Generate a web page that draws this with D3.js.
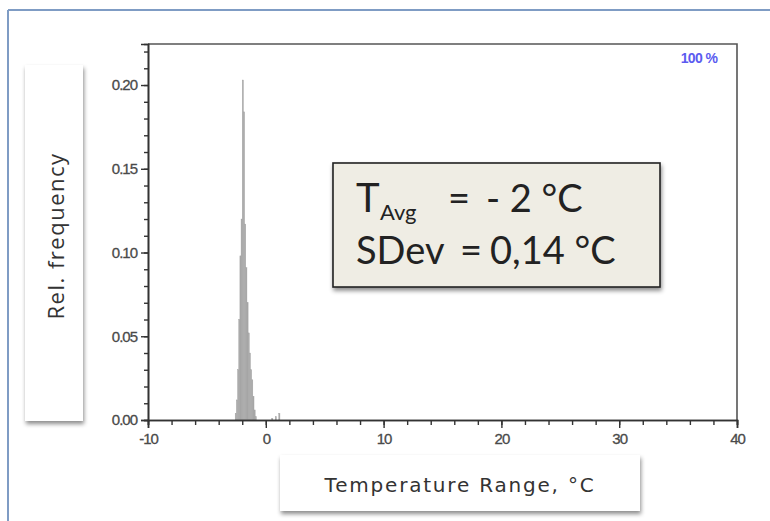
<!DOCTYPE html>
<html>
<head>
<meta charset="utf-8">
<script src="https://cdn.jsdelivr.net/npm/d3@7"></script>
<style>
  html, body { margin: 0; padding: 0; background: #fff; }
  svg { display: block; }
</style>
</head>
<body>
<svg id="chart" width="770" height="521"></svg>
<script>
// Histogram bins: left edge (°C), width 0.1 °C, relative frequency
const binStarts = [-2.6, -2.5, -2.4, -2.3, -2.2, -2.1, -2.0, -1.9, -1.8, -1.7, -1.6, -1.5, -1.4, -1.3, -1.2, -1.1, -1.0, -0.9, 0.5, 0.8, 1.1];
const binFreq   = [0.004, 0.012, 0.030, 0.060, 0.098, 0.120, 0.203, 0.184, 0.117, 0.091, 0.070, 0.052, 0.040, 0.030, 0.024, 0.014, 0.006, 0.002, 0.001, 0.002, 0.004];
const binWidth = 0.1;

const xTicks = [-10, 0, 10, 20, 30, 40];
const yTicks = [0.00, 0.05, 0.10, 0.15, 0.20];
const xDomain = [-10, 40];
const yDomain = [0, 0.2245];

const statLabels = ["SDev"];
const statValues = ["- 2 °C", "0,14 °C"];

const svg = d3.select("#chart");

// outer slide frame
svg.append("line").attr("x1", 8).attr("x2", 770).attr("y1", 10).attr("y2", 10)
  .attr("stroke", "#7f9cc4").attr("stroke-width", 2);
svg.append("line").attr("x1", 8).attr("x2", 8).attr("y1", 10).attr("y2", 521)
  .attr("stroke", "#7f9cc4").attr("stroke-width", 2);

const defs = svg.append("defs");
const f = defs.append("filter").attr("id", "shadow").attr("x", "-10%").attr("y", "-10%").attr("width", "130%").attr("height", "140%");
f.append("feDropShadow").attr("dx", 1).attr("dy", 3).attr("stdDeviation", 2).attr("flood-color", "#000").attr("flood-opacity", 0.45);

const plot = { left: 148, right: 737, top: 44, bottom: 420 };
const x = d3.scaleLinear().domain(xDomain).range([plot.left, plot.right]);
const y = d3.scaleLinear().domain(yDomain).range([plot.bottom, plot.top]);

// histogram bars
svg.append("g").selectAll("rect")
  .data(binStarts.map((s, i) => ({ s, v: binFreq[i] })))
  .join("rect")
  .attr("x", d => x(d.s))
  .attr("width", d => x(d.s + binWidth) - x(d.s))
  .attr("y", d => y(d.v))
  .attr("height", d => y(0) - y(d.v))
  .attr("fill", "#a6a6a6")
  .attr("stroke", "#a6a6a6")
  .attr("stroke-width", 0.4);

// plot frame (top and right)
svg.append("path")
  .attr("d", `M${plot.left},${plot.top}H${plot.right}V${plot.bottom}`)
  .attr("fill", "none").attr("stroke", "#555").attr("stroke-width", 1.6);

const tickFont = "Liberation Sans, Arial, sans-serif";
const hyphenInt = v => String(v);   // plain hyphen-minus, e.g. "-10"

// x axis
const xAxis = svg.append("g").attr("transform", `translate(0,${plot.bottom})`);
xAxis.call(d3.axisBottom(x).tickValues(d3.range(-10, 40.01, 2)).tickSize(5).tickFormat(""));
xAxis.append("g").call(d3.axisBottom(x).tickValues(xTicks).tickSize(8).tickFormat(hyphenInt));
xAxis.selectAll(".domain").attr("stroke", "#333").attr("stroke-width", 1.6);
xAxis.selectAll(".tick line").attr("stroke", "#333").attr("stroke-width", 1.4);
xAxis.selectAll("text")
  .style("font-family", tickFont).style("font-size", "15px").style("letter-spacing", "-1px")
  .attr("fill", "#4a4a4a").attr("stroke", "#4a4a4a").attr("stroke-width", 0.3)
  .attr("y", 13).attr("dy", "0.75em");

// y axis
const yAxis = svg.append("g").attr("transform", `translate(${plot.left},0)`);
yAxis.call(d3.axisLeft(y).tickValues(d3.range(0, 0.2241, 0.01)).tickSize(4).tickFormat(""));
yAxis.append("g").call(d3.axisLeft(y).tickValues(yTicks).tickSize(7).tickFormat(d3.format(".2f")));
yAxis.selectAll(".domain").attr("stroke", "#333").attr("stroke-width", 1.6);
yAxis.selectAll(".tick line").attr("stroke", "#333").attr("stroke-width", 1.4);
yAxis.selectAll("text")
  .style("font-family", tickFont).style("font-size", "15px").style("letter-spacing", "-1px")
  .attr("fill", "#4a4a4a").attr("stroke", "#4a4a4a").attr("stroke-width", 0.3)
  .attr("x", -11);

// zoom indicator
svg.append("text").attr("x", 699).attr("y", 63).attr("text-anchor", "middle")
  .style("font-family", tickFont).style("font-size", "14px").style("letter-spacing", "-0.6px")
  .attr("font-weight", "bold").attr("fill", "#5b5bf0").text("100 %");

// y-axis title card
svg.append("rect").attr("x", 25).attr("y", 65).attr("width", 58).attr("height", 356)
  .attr("fill", "#fff").attr("filter", "url(#shadow)");
svg.append("text")
  .attr("transform", "translate(64,236) rotate(-90)")
  .attr("text-anchor", "middle")
  .style("font-family", "Open Sans, sans-serif").style("font-size", "22px")
  .style("letter-spacing", "1.5px")
  .attr("fill", "#333").text("Rel. frequency");

// x-axis title card
svg.append("rect").attr("x", 280).attr("y", 455).attr("width", 360).attr("height", 56)
  .attr("fill", "#fff").attr("filter", "url(#shadow)");
svg.append("text").attr("x", 460).attr("y", 492).attr("text-anchor", "middle")
  .style("font-family", "DejaVu Sans, sans-serif").style("font-size", "20px")
  .style("letter-spacing", "1.8px").attr("fill", "#333").text("Temperature Range, °C");

// statistics box
svg.append("rect").attr("x", 333).attr("y", 163).attr("width", 327).attr("height", 124)
  .attr("fill", "#efede4").attr("stroke", "#222").attr("stroke-width", 1.6)
  .attr("filter", "url(#shadow)");
const boxFont = "Lato, sans-serif";
const t1 = svg.append("text").attr("font-family", boxFont).attr("fill", "#222");
t1.append("tspan").attr("x", 356).attr("y", 212).attr("font-size", 40).text("T");
t1.append("tspan").attr("x", 380).attr("y", 220).attr("font-size", 22).text("Avg");
t1.append("tspan").attr("x", 448).attr("y", 212).attr("font-size", 38).text("=");
t1.append("tspan").attr("x", 486).attr("y", 212).attr("font-size", 38).text(statValues[0]);
const t2 = svg.append("text").attr("font-family", boxFont).attr("fill", "#222").attr("font-size", 38);
t2.append("tspan").attr("x", 356).attr("y", 264).text(statLabels[0]);
t2.append("tspan").attr("x", 460).attr("y", 264).text("=");
t2.append("tspan").attr("x", 490).attr("y", 264).text(statValues[1]);
</script>
</body>
</html>
